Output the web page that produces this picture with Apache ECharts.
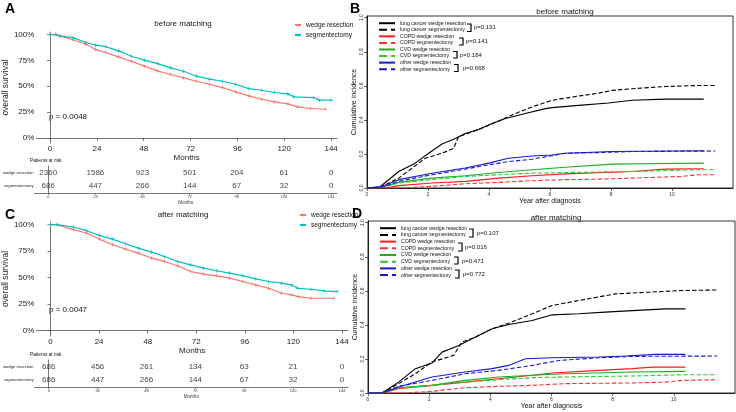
<!DOCTYPE html>
<html><head><meta charset="utf-8">
<script src="https://cdn.jsdelivr.net/npm/echarts@6/dist/echarts.min.js"></script>
<style>html,body{margin:0;padding:0;background:#fff}#c{width:736px;height:412px}</style>
</head><body><div id="c"></div>
<script>
// ---------- data ----------
const monthTicks = [0, 24, 48, 72, 96, 120, 144];
const survTicks = [0, 0.25, 0.5, 0.75, 1];
const yearTicks = [0, 2, 4, 6, 8, 10];
const cifTicks = [0, 0.2, 0.4, 0.6, 0.8, 1.0];
const riskRows = ['segmentectomy', 'wedge resection'];

// Panel A (before matching) KM
const aWedgeT = [0,3,5,11.7,18.4,23.4,28.4,35,41.7,48.4,55,61.7,68.4,75,81.8,88.4,95.1,101.8,108.5,115,121.8,126.8,133.5,141];
const aWedgeS = [1,1,0.987,0.95,0.906,0.855,0.826,0.784,0.742,0.694,0.648,0.613,0.581,0.548,0.519,0.487,0.445,0.406,0.374,0.348,0.329,0.3,0.284,0.277];
const aSegT = [0,3,5,11.7,18.4,23.4,28.4,35,41.7,48.4,55,61.7,68.4,75,81.8,88.4,95.1,101.8,108.5,115,121.8,125,135,138,144];
const aSegS = [1,1,0.987,0.971,0.923,0.897,0.884,0.842,0.79,0.752,0.719,0.677,0.645,0.597,0.568,0.548,0.519,0.477,0.461,0.439,0.426,0.397,0.39,0.365,0.365];
const riskAWedge = [2360,1586,923,501,204,61,0];
const riskASeg = [686,447,266,144,67,32,0];

// Panel C (after matching) KM
const cWedgeT = [0,3.2,11.3,17.7,24.1,30.6,37,43.4,49.9,56.3,62.8,69.2,75.6,82.1,88.5,94.9,101.4,107.8,114.2,119,122.3,128.7,140];
const cWedgeS = [1,1,0.953,0.921,0.864,0.811,0.77,0.732,0.685,0.653,0.612,0.558,0.533,0.517,0.495,0.464,0.432,0.4,0.353,0.338,0.322,0.306,0.306];
const cSegT = [0,3.2,11.3,17.7,24.1,30.6,37,43.4,49.9,56.3,62.8,69.2,75.6,82.1,88.5,94.9,101.4,107.8,114.2,119,122.3,128.7,135.1,141.6];
const cSegS = [1,1,0.978,0.943,0.899,0.864,0.82,0.779,0.741,0.7,0.653,0.621,0.59,0.565,0.543,0.52,0.489,0.464,0.448,0.432,0.4,0.391,0.375,0.369];
const riskCWedge = [686,456,261,134,63,21,0];
const riskCSeg = [686,447,266,144,67,32,0];

// Panel B (before matching) cumulative incidence
const bLungWT = [0,0.38,1.04,1.58,2.02,2.46,2.9,3.22,3.66,4.1,4.54,5.19,5.85,6.07,6.94,7.92,8.69,9.78,11.04];
const bLungWV = [0,0,0.097,0.146,0.204,0.258,0.291,0.32,0.344,0.379,0.408,0.437,0.466,0.472,0.485,0.499,0.515,0.522,0.522];
const bLungST = [0,0.4,1.04,1.48,1.91,2.46,2.84,3.0,3.44,3.88,4.32,4.86,5.41,6.07,6.72,7.6,8.03,8.69,9.78,10.87,11.42];
const bLungSV = [0,0,0.058,0.117,0.175,0.204,0.233,0.301,0.33,0.359,0.394,0.437,0.476,0.515,0.534,0.557,0.573,0.583,0.596,0.602,0.602];
const bCopdWT = [0,0.6,1.04,2.13,3.22,4.32,5.41,6.5,8.69,9.78,11.04];
const bCopdWV = [0,0,0.014,0.029,0.039,0.058,0.072,0.083,0.097,0.111,0.113];
const bCopdST = [0,1.2,2.13,3.22,4.32,5.41,6.5,7.6,8.69,10.33,10.87,11.42];
const bCopdSV = [0,0,0.01,0.025,0.033,0.043,0.049,0.052,0.058,0.068,0.078,0.078];
const bCvdWT = [0,0.5,1.04,2.13,3.22,4.32,5.41,6.5,8.03,9.78,11.04];
const bCvdWV = [0,0.005,0.033,0.058,0.072,0.091,0.107,0.122,0.14,0.144,0.146];
const bCvdST = [0,0.5,1.04,2.13,3.22,4.32,5.41,6.5,8.69,10.87,11.42];
const bCvdSV = [0,0.005,0.029,0.049,0.068,0.078,0.087,0.091,0.097,0.107,0.107];
const bOthWT = [0,0.5,1.04,2.13,3.22,3.99,4.64,5.41,6.07,6.5,8.03,11.04];
const bOthWV = [0,0.01,0.049,0.087,0.117,0.146,0.175,0.188,0.194,0.204,0.214,0.219];
const bOthST = [0,0.5,1.04,2.13,3.22,3.99,4.64,5.41,6.07,6.5,7.6,8.69,11.42];
const bOthSV = [0,0.005,0.039,0.078,0.111,0.136,0.155,0.169,0.19,0.204,0.208,0.214,0.217];

// Panel D (after matching) cumulative incidence
const dLungWT = [0,0.46,1.0,1.55,2.09,2.42,2.97,3.4,4.06,4.6,5.37,6.02,6.89,7.76,8.64,9.73,10.38];
const dLungWV = [0,0,0.064,0.143,0.176,0.24,0.279,0.318,0.377,0.402,0.426,0.459,0.465,0.475,0.484,0.494,0.494];
const dLungST = [0,0.46,1.0,1.55,2.09,2.8,3.07,3.51,4.06,4.6,5.37,6.02,6.89,8.09,9.18,10.27,11.42];
const dLungSV = [0,0,0.055,0.113,0.182,0.221,0.299,0.328,0.377,0.41,0.465,0.514,0.543,0.582,0.592,0.602,0.605];
const dCopdWT = [0,0.5,1.0,2.09,3.18,4.27,5.37,6.02,7.55,8.64,9.29,10.38];
const dCopdWV = [0,0,0.025,0.045,0.064,0.084,0.104,0.117,0.133,0.143,0.152,0.152];
const dCopdST = [0,1.2,2.09,3.18,4.27,5.37,6.46,8.64,9.73,10.27,11.42];
const dCopdSV = [0,0,0.01,0.031,0.039,0.045,0.055,0.059,0.064,0.074,0.078];
const dCvdWT = [0,0.5,1.0,2.09,3.18,4.27,5.37,6.46,8.64,10.38];
const dCvdWV = [0,0,0.031,0.045,0.074,0.094,0.104,0.113,0.123,0.127];
const dCvdST = [0,0.5,1.0,2.09,3.18,4.27,5.37,6.46,8.64,10.27,11.42];
const dCvdSV = [0,0,0.031,0.045,0.064,0.078,0.09,0.094,0.1,0.107,0.107];
const dOthWT = [0,0.46,1.0,2.09,3.18,4.06,4.6,5.15,6.02,7.55,8.42,9.4,10.38];
const dOthWV = [0,0,0.035,0.094,0.123,0.143,0.162,0.201,0.207,0.211,0.217,0.227,0.227];
const dOthST = [0,0.46,1.0,2.09,3.18,4.27,5.37,6.24,7.55,8.64,11.42];
const dOthSV = [0,0,0.039,0.074,0.113,0.133,0.162,0.191,0.207,0.215,0.217];

const cifNames = ['lung cancer wedge resection','lung cancer segmentectomy','COPD wedge resection','COPD segmentectomy','CVD wedge resection','CVD segmentectomy','other wedge resection','other segmentectomy'];

// ---------- build ----------
const FONT = 'Liberation Sans, Arial, sans-serif';
const RED = '#F8766D', TEAL = '#00BFC4';
const zip = (t, v) => t.map((x, i) => [x, v[i]]);
const cross = 'path://M0,4L10,4L10,6L0,6Z M4,0L6,0L6,10L4,10Z';

function kmSeries(name, color, t, s, gi) {
  return { type: 'line', name, xAxisIndex: gi, yAxisIndex: gi, data: zip(t, s),
    showSymbol: true, symbol: cross, symbolSize: 3.5, itemStyle: { color },
    lineStyle: { color, width: 1.2 }, silent: true, animation: false, z: 3 };
}
function riskSeries(gi, wedge, seg) {
  const d = [];
  monthTicks.forEach((m, i) => { d.push([m, 'wedge resection', wedge[i]]); d.push([m, 'segmentectomy', seg[i]]); });
  return { type: 'scatter', name: 'risk' + gi, xAxisIndex: gi, yAxisIndex: gi, data: d, symbolSize: 0,
    label: { show: true, position: 'inside', formatter: p => p.value[2], fontSize: 8, color: '#111', fontFamily: FONT },
    silent: true, animation: false };
}
const cifStyles = [
  ['#000000','solid'],['#000000','dashed'],['#ff1a1a','solid'],['#ff3030','dashed'],
  ['#1faa1f','solid'],['#2ecc2e','dashed'],['#1a1acc','solid'],['#1a1acc','dashed']
];
function cifSeries(gi, pairs) {
  return pairs.map((p, i) => ({ type: 'line', name: cifNames[i], xAxisIndex: gi, yAxisIndex: gi,
    data: zip(p[0], p[1]), showSymbol: false, symbol: 'none',
    lineStyle: { color: cifStyles[i][0], type: cifStyles[i][1], width: 1.1 },
    itemStyle: { color: cifStyles[i][0] }, silent: true, animation: false }));
}

const axisCol = '#555';
function kmX(gi) {
  return { type: 'value', gridIndex: gi, min: -7, max: 147,
    axisLine: { show: true, lineStyle: { color: axisCol, width: 0.8 } },
    axisTick: { show: true, customValues: monthTicks, length: 3, lineStyle: { color: axisCol, width: 0.8 } },
    axisLabel: { customValues: monthTicks, fontSize: 8, margin: 2, color: '#222', fontFamily: FONT },
    splitLine: { show: false },
    name: 'Months', nameLocation: 'middle', nameGap: 6, nameTextStyle: { fontSize: 8, color: '#222', fontFamily: FONT } };
}
function kmY(gi) {
  return { type: 'value', gridIndex: gi, min: -0.05, max: 1.025,
    axisLine: { show: true, lineStyle: { color: axisCol, width: 0.8 } },
    axisTick: { show: true, customValues: survTicks, length: 3, lineStyle: { color: axisCol, width: 0.8 } },
    axisLabel: { customValues: survTicks, formatter: v => Math.round(v * 100) + '%', fontSize: 8, margin: 2, color: '#222', fontFamily: FONT },
    splitLine: { show: false },
    name: 'overall survival', nameLocation: 'middle', nameGap: 16, nameRotate: 90, nameTextStyle: { fontSize: 8.5, color: '#222', fontFamily: FONT } };
}
function riskX(gi) {
  return { type: 'value', gridIndex: gi, min: -7, max: 147,
    axisLine: { show: true, lineStyle: { color: axisCol, width: 0.8 } },
    axisTick: { show: true, customValues: monthTicks, length: 2, lineStyle: { color: axisCol, width: 0.6 } },
    axisLabel: { customValues: monthTicks, fontSize: 4, margin: 2, color: '#333', fontFamily: FONT },
    splitLine: { show: false },
    name: 'Months', nameLocation: 'middle', nameGap: 6, nameTextStyle: { fontSize: 4.5, color: '#333', fontFamily: FONT } };
}
function riskY(gi) {
  return { type: 'category', gridIndex: gi, data: riskRows,
    axisLine: { show: true, lineStyle: { color: axisCol, width: 0.8 } },
    axisTick: { show: false },
    axisLabel: { fontSize: 4.2, margin: 1, color: '#222', fontFamily: FONT } };
}
function cifX(gi) {
  return { type: 'value', gridIndex: gi, min: 0, max: 12,
    axisLine: { show: true, onZero: false, lineStyle: { color: '#000', width: 0.8 } },
    axisTick: { show: true, customValues: yearTicks, length: 3, lineStyle: { color: '#000', width: 0.6 } },
    axisLabel: { customValues: yearTicks, fontSize: 5, margin: 4, color: '#333', fontFamily: FONT },
    splitLine: { show: false },
    name: 'Year after diagnosis', nameLocation: 'middle', nameGap: 10, nameTextStyle: { fontSize: 7, color: '#111', fontFamily: FONT } };
}
function cifY(gi) {
  return { type: 'value', gridIndex: gi, min: 0, max: 1.01,
    axisLine: { show: true, lineStyle: { color: '#000', width: 0.8 } },
    axisTick: { show: true, customValues: cifTicks, length: 3, lineStyle: { color: '#000', width: 0.6 } },
    axisLabel: { customValues: cifTicks, formatter: v => v.toFixed(1), rotate: 90, fontSize: 5, margin: 3, color: '#333', fontFamily: FONT },
    splitLine: { show: false },
    name: 'Cumulative incidence', nameLocation: 'middle', nameGap: 9, nameRotate: 90, nameTextStyle: { fontSize: 7, color: '#111', fontFamily: FONT } };
}

function bracket(x, y1, y2, w) {
  return { type: 'polyline', shape: { points: [[x - w, y1], [x, y1], [x, y2], [x - w, y2]] },
    style: { stroke: '#000', lineWidth: 1.2, fill: null }, silent: true };
}
function txt(x, y, s, size, extra) {
  return Object.assign({ type: 'text', x, y, style: Object.assign({ text: s, fontSize: size, fontFamily: FONT, fill: '#111', verticalAlign: 'middle' }, extra || {}), silent: true });
}
const titleStyle = { fontSize: 8, fontWeight: 'normal', color: '#111', fontFamily: FONT };
const cifLegend = (left, top, gap) => ({ data: cifNames, orient: 'vertical', left, top, itemWidth: 16, itemHeight: 5, itemGap: gap, padding: 0,
  itemStyle: { opacity: 0 },
  textStyle: { fontSize: 5.2, lineHeight: 5, color: '#111', fontFamily: FONT }, selectedMode: false });

const option = {
  backgroundColor: '#fff',
  animation: false,
  title: [
    { text: 'before matching', left: 183, top: 20, padding: 0, textAlign: 'center', textStyle: titleStyle },
    { text: 'after matching', left: 183, top: 211, padding: 0, textAlign: 'center', textStyle: titleStyle },
    { text: 'before matching', left: 565, top: 8, padding: 0, textAlign: 'center', textStyle: titleStyle },
    { text: 'after matching', left: 556, top: 214, padding: 0, textAlign: 'center', textStyle: titleStyle }
  ],
  grid: [
    { left: 29, top: 32, width: 308, height: 111 },
    { left: 29, top: 166, width: 308, height: 27 },
    { left: 29, top: 222, width: 319, height: 114 },
    { left: 29, top: 360, width: 319, height: 27 },
    { left: 367, top: 16, width: 366, height: 172, show: true, borderColor: '#000', borderWidth: 0.8 },
    { left: 368, top: 221, width: 367, height: 172, show: true, borderColor: '#000', borderWidth: 0.8 }
  ],
  xAxis: [kmX(0), riskX(1), kmX(2), riskX(3), cifX(4), cifX(5)],
  yAxis: [kmY(0), riskY(1), kmY(2), riskY(3), cifY(4), cifY(5)],
  legend: [
    { data: ['wedge resection', 'segmentectomy'], orient: 'vertical', left: 294, top: 21, itemWidth: 6, itemHeight: 4, itemGap: 2, padding: 0,
      textStyle: { fontSize: 6.5, lineHeight: 8, color: '#111', fontFamily: FONT }, selectedMode: false },
    { data: ['wedge resection', 'segmentectomy'], orient: 'vertical', left: 299, top: 211, itemWidth: 6, itemHeight: 4, itemGap: 2, padding: 0,
      textStyle: { fontSize: 6.5, lineHeight: 8, color: '#111', fontFamily: FONT }, selectedMode: false },
    cifLegend(378, 20.7, 1.57),
    cifLegend(379, 225.7, 1.7)
  ],
  series: [
    kmSeries('wedge resection', RED, aWedgeT, aWedgeS, 0),
    kmSeries('segmentectomy', TEAL, aSegT, aSegS, 0),
    riskSeries(1, riskAWedge, riskASeg),
    kmSeries('wedge resection', RED, cWedgeT, cWedgeS, 2),
    kmSeries('segmentectomy', TEAL, cSegT, cSegS, 2),
    riskSeries(3, riskCWedge, riskCSeg),
    ...cifSeries(4, [[bLungWT,bLungWV],[bLungST,bLungSV],[bCopdWT,bCopdWV],[bCopdST,bCopdSV],[bCvdWT,bCvdWV],[bCvdST,bCvdSV],[bOthWT,bOthWV],[bOthST,bOthSV]]),
    ...cifSeries(5, [[dLungWT,dLungWV],[dLungST,dLungSV],[dCopdWT,dCopdWV],[dCopdST,dCopdSV],[dCvdWT,dCvdWV],[dCvdST,dCvdSV],[dOthWT,dOthWV],[dOthST,dOthSV]])
  ],
  graphic: [
    txt(5, 9, 'A', 14, { fontWeight: 'bold', fill: '#000' }),
    txt(350, 9, 'B', 14, { fontWeight: 'bold', fill: '#000' }),
    txt(5, 215, 'C', 14, { fontWeight: 'bold', fill: '#000' }),
    txt(352, 214, 'D', 14, { fontWeight: 'bold', fill: '#000' }),
    txt(49, 117, 'p = 0.0048', 8),
    txt(49, 310, 'p = 0.0047', 8),
    txt(30, 161, 'Patients at risk', 4.8),
    txt(30, 355, 'Patients at risk', 4.8),
    bracket(471, 24, 31.5, 4), txt(474, 27.7, 'p=0.191', 6),
    bracket(463, 38, 45, 4), txt(466, 41.5, 'p=0.141', 6),
    bracket(457, 51.5, 58, 4), txt(460, 55, 'p=0.184', 6),
    bracket(458, 64.5, 71.5, 4), txt(463, 68, 'p=0.668', 6),
    bracket(473, 229, 237, 4), txt(477, 233, 'p=0.107', 6),
    bracket(462, 243, 251, 4), txt(465, 247, 'p=0.016', 6),
    bracket(458, 257, 264, 4), txt(462, 261, 'p=0.471', 6),
    bracket(459, 270, 278, 4), txt(463, 274, 'p=0.772', 6)
  ]
};
const chart = echarts.init(document.getElementById('c'), null, { renderer: 'canvas' });
chart.setOption(option);
</script>
</body></html>
